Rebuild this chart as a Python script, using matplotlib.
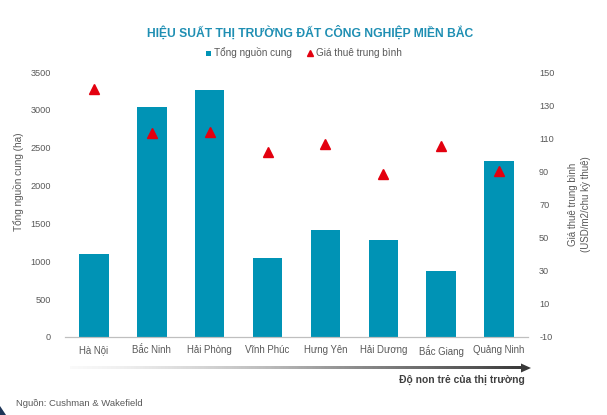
import numpy as np
import matplotlib.pyplot as plt
from matplotlib.patches import Polygon

plt.rcParams['font.family'] = ['Liberation Sans', 'DejaVu Sans']
plt.rcParams['axes.unicode_minus'] = False

provinces = ['Hà Nội', 'Bắc Ninh', 'Hải Phòng', 'Vĩnh Phúc', 'Hưng Yên',
             'Hải Dương', 'Bắc Giang', 'Quảng Ninh']
supply = [1100, 3040, 3260, 1045, 1415, 1285, 870, 2325]
rent = [140, 113, 114, 101.5, 106.5, 88.5, 105.5, 90]

left_ticks = [0, 500, 1000, 1500, 2000, 2500, 3000, 3500]
right_ticks = [-10, 10, 30, 50, 70, 90, 110, 130, 150]

bar_color = '#0093b5'
tri_color = '#e3000f'
grey = '#595959'

fig = plt.figure(figsize=(6.07, 4.15), dpi=100)
ax = fig.add_axes([65 / 607, 1 - 337 / 415, 463 / 607, 265 / 415])
ax2 = ax.twinx()

x = np.arange(len(provinces))
b = ax.bar(x, supply, width=0.51, color=bar_color, label='Tổng nguồn cung', zorder=2)
t, = ax2.plot(x, rent, linestyle='none', marker='^', markersize=7,
              color=tri_color, label='Giá thuê trung bình', zorder=3)

ax.set_xlim(-0.5, len(provinces) - 0.5)
ax.set_ylim(0, 3500)
ax2.set_ylim(-10, 150)
ax.set_yticks(left_ticks)
ax2.set_yticks(right_ticks)
ax.set_xticks(x)
ax.set_xticklabels(provinces)

for a in (ax, ax2):
    for s in ('top', 'left', 'right'):
        a.spines[s].set_visible(False)
    a.spines['bottom'].set_color('#bfbfbf')
    a.spines['bottom'].set_linewidth(0.8)
    a.tick_params(axis='both', length=0, labelsize=6.6, colors=grey)
ax.tick_params(axis='y', pad=10)
ax2.tick_params(axis='y', pad=8)
ax.tick_params(axis='x', pad=6, labelsize=6.9)

ax.set_ylabel('Tổng nguồn cung (ha)', fontsize=7.2, color=grey)
ax.yaxis.set_label_coords(-0.088, 0.585)
ax2.set_ylabel('Giá thuê trung bình\n(USD/m2/chu kỳ thuê)', fontsize=7.0,
               color=grey, labelpad=10, linespacing=1.35)

fig.text(310 / 607, 1 - 33 / 415, 'HIỆU SUẤT THỊ TRƯỜNG ĐẤT CÔNG NGHIỆP MIỀN BẮC',
         ha='center', va='center', fontsize=8.7, fontweight='bold', color='#1f8fb3')

leg = fig.legend([b, t], ['Tổng nguồn cung', 'Giá thuê trung bình'],
                 loc='center', bbox_to_anchor=(0.5, 1 - 53 / 415), ncol=2,
                 frameon=False, fontsize=7.2, handlelength=0.5, handletextpad=0.3,
                 columnspacing=1.6, markerscale=0.6)
for txt in leg.get_texts():
    txt.set_color(grey)
leg.legend_handles[0].set_height(4)
leg.legend_handles[0].set_width(4)

# gradient arrow under the x axis (pixel coordinates overlay)
ov = fig.add_axes([0, 0, 1, 1], zorder=5)
ov.axis('off')
grad = np.linspace(0.04, 0.82, 256).reshape(1, -1)
ov.imshow(grad, cmap='Greys', vmin=0, vmax=1, aspect='auto',
          extent=(70, 523, 369.5, 366.5), interpolation='bilinear')
ov.add_patch(Polygon([(521, 363.5), (531, 368), (521, 372.5)], closed=True,
                     color=plt.cm.Greys(0.82), lw=0))
ov.set_xlim(0, 607)
ov.set_ylim(415, 0)
ov.text(525, 380, 'Độ non trẻ của thị trường', ha='right', va='center',
        fontsize=7.4, fontweight='bold', color='#404040')
ov.text(16, 403, 'Nguồn: Cushman & Wakefield', ha='left', va='center',
        fontsize=6.8, color=grey)
ov.add_patch(Polygon([(0, 406), (6, 415), (0, 415)], closed=True, color='#1d3557', lw=0))

fig.savefig('out.png', dpi=100)
